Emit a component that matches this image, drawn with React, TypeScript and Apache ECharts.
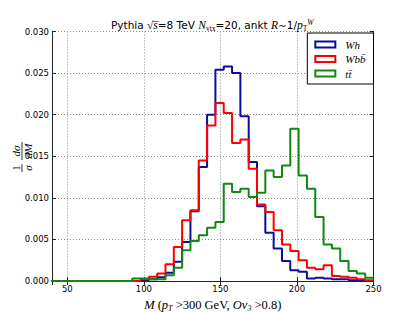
import React, { useEffect, useRef } from 'react';
import * as echarts from 'echarts';

// Bin edges (GeV) of the step histograms (left edges plus final right edge)
const binEdges = [
  38.04, 43.48, 48.91, 54.35, 59.78, 65.22, 70.65, 76.09, 81.52, 86.96,
  92.39, 97.83, 103.26, 108.7, 114.13, 119.57, 125.0, 130.43, 135.87, 141.3,
  146.74, 152.17, 157.61, 163.04, 168.48, 173.91, 179.35, 184.78, 190.22, 195.65,
  201.09, 206.52, 211.96, 217.39, 222.83, 228.26, 233.7, 239.13, 244.57, 250.0,
];

const whValues = [
  0, 0, 0, 0, 0, 0, 0, 0, 0, 0,
  0, 0.0001, 0.0002, 0.00044, 0.001, 0.0023, 0.0047, 0.0084, 0.0137, 0.02,
  0.0254, 0.0258, 0.025, 0.0198, 0.0143, 0.009, 0.0058, 0.0039, 0.0024, 0.0013,
  0.0011, 0.0003, 0.0004, 0.0003, 0.0002, 0.0002, 0.0001, 0, 0,
];

const wbbValues = [
  0, 0, 0, 0, 0, 0, 0, 0, 0, 0,
  0, 0.0002, 0.0005, 0.0009, 0.002, 0.0041, 0.0073, 0.0085, 0.0145, 0.0187,
  0.0214, 0.0202, 0.0166, 0.017, 0.0135, 0.0092, 0.0083, 0.0061, 0.0044, 0.0036,
  0.0025, 0.0016, 0.0014, 0.0019, 0.0006, 0.0005, 0.0004, 0.0002, 0.0001,
];

const ttValues = [
  0, 0, 0, 0, 0, 0, 0, 0, 0, 0,
  0.0003, 0.0003, 0.0002, 0.0002, 0.0007, 0.0016, 0.0037, 0.0048, 0.0055, 0.0064,
  0.0071, 0.0117, 0.0107, 0.0111, 0.0101, 0.0106, 0.0133, 0.0125, 0.0139, 0.0183,
  0.0127, 0.0111, 0.0077, 0.0044, 0.0039, 0.0024, 0.0012, 0.0009, 0.0004,
];

const seriesNames = ['Wh', 'Wbb\u0304', 'tt\u0304'];
const seriesColors = ['#0c0c9c', '#ff0000', '#118811'];
const xTicks = [50, 100, 150, 200, 250];
const yTicks = [0, 0.005, 0.01, 0.015, 0.02, 0.025, 0.03];

const SANS = 'DejaVu Sans';
const SERIF = 'Liberation Serif';

function toSteps(values: number[]) {
  return binEdges.map((e, i) => [e, values[Math.min(i, values.length - 1)]]);
}

export default function App() {
  const ref = useRef<HTMLDivElement>(null);
  useEffect(() => {
    if (!ref.current) return;
    const chart = echarts.init(ref.current, null, { renderer: 'svg' });
    const allValues = [whValues, wbbValues, ttValues];
    const axisLine = { show: true, lineStyle: { color: '#222', width: 1 } };
    const tick = { show: true, inside: true, length: 4, lineStyle: { color: '#222' } };
    chart.setOption({
      animation: false,
      backgroundColor: '#fff',
      title: {
        left: 106,
        top: 13,
        text:
          '{n|Pythia }{i|√}{o|s\u0305}{n|=8 TeV }{i|N}{sub|vtx}{n|=20, ankt }{i|R}{n|∼1/}{i|p}{sub|T}{sup|W}',
        textStyle: {
          fontWeight: 'normal',
          rich: {
            n: { fontFamily: SANS, fontWeight: 'normal', fontSize: 10.5, color: '#000', lineHeight: 14 },
            i: { fontFamily: SERIF, fontWeight: 'normal', fontStyle: 'italic', fontSize: 11.5, color: '#000', lineHeight: 14 },
            o: { fontFamily: SERIF, fontWeight: 'normal', fontStyle: 'italic', fontSize: 11.5, color: '#000', lineHeight: 14 },
            sub: { fontFamily: SERIF, fontWeight: 'normal', fontSize: 7.5, color: '#000', lineHeight: 8, verticalAlign: 'bottom' },
            sup: { fontFamily: SERIF, fontWeight: 'normal', fontStyle: 'italic', fontSize: 7.5, color: '#000', lineHeight: 8, verticalAlign: 'top' },
          },
        },
      },
      legend: {
        orient: 'vertical',
        right: 41.5,
        top: 33,
        icon: 'rect',
        itemWidth: 20,
        itemHeight: 6,
        itemGap: 1.5,
        padding: [5, 8, 4, 7],
        borderColor: '#000',
        borderWidth: 1,
        backgroundColor: '#fff',
        textStyle: {
          fontFamily: SERIF,
          fontStyle: 'italic',
          fontSize: 11,
          color: '#000',
          lineHeight: 13,
          padding: [0, 0, 0, 5],
        },
        data: seriesNames.map((name, i) => ({
          name,
          icon: 'rect',
          itemStyle: { color: '#fff', borderColor: seriesColors[i], borderWidth: 2 },
        })),
      },
      grid: { left: 52, right: 41.5, top: 31.5, bottom: 31, containLabel: false, outerBoundsMode: 'none' },
      xAxis: [
        {
          type: 'value',
          min: 40,
          max: 250,
          position: 'bottom',
          axisLine,
          axisTick: tick,
          axisLabel: {
            showMinLabel: false,
            margin: 3,
            fontFamily: SANS,
            fontSize: 8.5,
            color: '#000',
            formatter: (v: number) => (xTicks.includes(v) ? String(v) : ''),
          },
          splitLine: { show: true, lineStyle: { color: '#888', type: [1, 2], width: 1 } },
          name: '{i|M} ({i|p}{sub|T} >300 GeV, {i|Ov}{sub|3} >0.8)',
          nameLocation: 'middle',
          nameGap: 9,
          nameTextStyle: {
            rich: {
              i: { fontFamily: SERIF, fontStyle: 'italic', fontSize: 12.5, color: '#000', lineHeight: 15 },
              sub: { fontFamily: SERIF, fontStyle: 'italic', fontSize: 8, color: '#000', lineHeight: 9, verticalAlign: 'bottom' },
            },
            fontFamily: SERIF,
            fontSize: 12.5,
            color: '#000',
            lineHeight: 15,
          },
        },
        {
          type: 'value',
          min: 40,
          max: 250,
          position: 'top',
          axisLine,
          axisTick: tick,
          axisLabel: { show: false },
          splitLine: { show: false },
        },
      ],
      yAxis: [
        {
          type: 'value',
          min: 0,
          max: 0.03,
          interval: 0.005,
          axisLine,
          axisTick: tick,
          axisLabel: {
            margin: 3,
            fontFamily: SANS,
            fontSize: 8.5,
            color: '#000',
            formatter: (v: number) => (yTicks.some((t) => Math.abs(t - v) < 1e-9) ? v.toFixed(3) : ''),
          },
          splitLine: { show: true, lineStyle: { color: '#888', type: [1, 2], width: 1 } },
        },
        {
          type: 'value',
          min: 0,
          max: 0.03,
          interval: 0.005,
          position: 'right',
          axisLine,
          axisTick: tick,
          axisLabel: { show: false },
          splitLine: { show: false },
        },
      ],
      graphic: [
        {
          type: 'group',
          x: 22,
          y: 157,
          rotation: Math.PI / 2,
          children: [
            { type: 'text', x: -11, y: -6, style: { text: '1', font: `11px ${SERIF}`, fill: '#000', align: 'center', verticalAlign: 'middle' } },
            { type: 'line', shape: { x1: -15, y1: 0, x2: -7, y2: 0 }, style: { stroke: '#000', lineWidth: 0.8 } },
            { type: 'text', x: -11, y: 6, style: { text: 'σ', font: `italic 11px ${SERIF}`, fill: '#000', align: 'center', verticalAlign: 'middle' } },
            { type: 'text', x: 6, y: -6, style: { text: 'dσ', font: `italic 11px ${SERIF}`, fill: '#000', align: 'center', verticalAlign: 'middle' } },
            { type: 'line', shape: { x1: -3, y1: 0, x2: 15, y2: 0 }, style: { stroke: '#000', lineWidth: 0.8 } },
            { type: 'text', x: 6, y: 6, style: { text: 'dM', font: `italic 11px ${SERIF}`, fill: '#000', align: 'center', verticalAlign: 'middle' } },
          ],
        },
      ],
      series: seriesNames.map((name, i) => ({
        name,
        type: 'line',
        xAxisIndex: 0,
        yAxisIndex: 0,
        step: 'end',
        showSymbol: false,
        symbol: 'none',
        clip: true,
        color: seriesColors[i],
        lineStyle: { color: seriesColors[i], width: 2 },
        data: toSteps(allValues[i]),
      })),
    });
    return () => chart.dispose();
  }, []);
  return <div ref={ref} style={{ width: 415, height: 312, position: 'absolute', left: 0, top: 0 }} />;
}
